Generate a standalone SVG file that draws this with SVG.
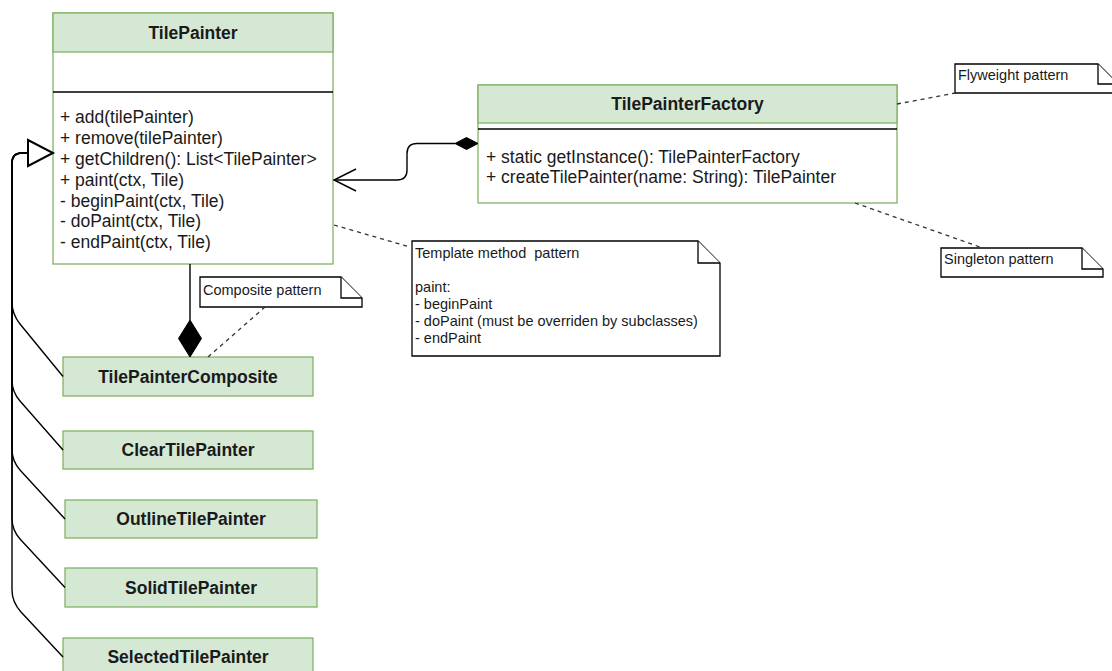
<svg xmlns="http://www.w3.org/2000/svg" width="1112" height="671" viewBox="0 0 1112 671">
  <style>
    .cls { fill: #d5e8d4; stroke: #82b366; stroke-width: 1.3; }
    .body { fill: #ffffff; stroke: #82b366; stroke-width: 1.3; }
    .sep { stroke: #000000; stroke-width: 1.5; }
    .title { font-family: "Liberation Sans", Arial, sans-serif; font-size: 17.5px; font-weight: bold; fill: #1a1a1a; text-anchor: middle; }
    .member { font-family: "Liberation Sans", Arial, sans-serif; font-size: 17.5px; fill: #1a1a1a; }
    .note { fill: #ffffff; stroke: #000000; stroke-width: 1.3; }
    .notetext { font-family: "Liberation Sans", Arial, sans-serif; font-size: 14.5px; fill: #1a1a1a; white-space: pre; }
    .edge { fill: none; stroke: #000000; stroke-width: 1.4; }
    .dash { fill: none; stroke: #333333; stroke-width: 1.3; stroke-dasharray: 4 4; }
  </style>

  <!-- TilePainter class -->
  <g id="tilePainter">
    <rect class="body" x="53" y="13" width="280" height="251"/>
    <rect class="cls" x="53" y="13" width="280" height="39"/>
    <line class="sep" x1="53" y1="92" x2="333" y2="92"/>
    <text class="title" x="193" y="38.5">TilePainter</text>
    <text class="member" x="60" y="123">+ add(tilePainter)</text>
    <text class="member" x="60" y="144">+ remove(tilePainter)</text>
    <text class="member" x="60" y="165">+ getChildren(): List&lt;TilePainter&gt;</text>
    <text class="member" x="60" y="186">+ paint(ctx, Tile)</text>
    <text class="member" x="60" y="206.5">- beginPaint(ctx, Tile)</text>
    <text class="member" x="60" y="227">- doPaint(ctx, Tile)</text>
    <text class="member" x="60" y="248">- endPaint(ctx, Tile)</text>
  </g>

  <!-- TilePainterFactory class -->
  <g id="tilePainterFactory">
    <rect class="body" x="478" y="85" width="419" height="118"/>
    <rect class="cls" x="478" y="85" width="419" height="38"/>
    <line class="sep" x1="478" y1="129" x2="897" y2="129"/>
    <text class="title" x="687.5" y="110">TilePainterFactory</text>
    <text class="member" x="486" y="162.5">+ static getInstance(): TilePainterFactory</text>
    <text class="member" x="486" y="183">+ createTilePainter(name: String): TilePainter</text>
  </g>

  <!-- Subclasses -->
  <g id="tilePainterComposite">
    <rect class="cls" x="63" y="357" width="250" height="39"/>
    <text class="title" x="188" y="382.5">TilePainterComposite</text>
  </g>
  <g id="clearTilePainter">
    <rect class="cls" x="63" y="431" width="250" height="38"/>
    <text class="title" x="188" y="456">ClearTilePainter</text>
  </g>
  <g id="outlineTilePainter">
    <rect class="cls" x="65" y="500" width="252" height="38"/>
    <text class="title" x="191" y="525">OutlineTilePainter</text>
  </g>
  <g id="solidTilePainter">
    <rect class="cls" x="65" y="568" width="252" height="39"/>
    <text class="title" x="191" y="593.5">SolidTilePainter</text>
  </g>
  <g id="selectedTilePainter">
    <rect class="cls" x="63" y="638" width="250" height="39"/>
    <text class="title" x="188" y="663">SelectedTilePainter</text>
  </g>

  <!-- Notes -->
  <g id="noteComposite">
    <path class="note" d="M200,277 H341 L362,298 V307 H200 Z"/>
    <path class="note" d="M341,277 V298 H362"/>
    <text class="notetext" x="203" y="295">Composite pattern</text>
  </g>
  <g id="noteTemplate">
    <path class="note" d="M412,241 H698 L720,263 V356 H412 Z"/>
    <path class="note" d="M698,241 V263 H720"/>
    <text class="notetext" x="415" y="258">Template method  pattern</text>
    <text class="notetext" x="415" y="292">paint:</text>
    <text class="notetext" x="415" y="309">- beginPaint</text>
    <text class="notetext" x="415" y="326">- doPaint (must be overriden by subclasses)</text>
    <text class="notetext" x="415" y="343">- endPaint</text>
  </g>
  <g id="noteFlyweight">
    <path class="note" d="M955,64 H1098 L1118,84 V93 H955 Z"/>
    <path class="note" d="M1098,64 V84 H1118"/>
    <text class="notetext" x="958" y="80">Flyweight pattern</text>
  </g>
  <g id="noteSingleton">
    <path class="note" d="M941,248 H1082 L1103,269 V277 H941 Z"/>
    <path class="note" d="M1082,248 V269 H1103"/>
    <text class="notetext" x="944" y="264">Singleton pattern</text>
  </g>

  <!-- Connectors -->
  <g id="connectors">
    <!-- generalization edges sharing one trunk -->
    <path class="edge" d="M63,376.5 L20,324 Q12,314 12,302 L12,163 Q12,153 22,153 L28,153"/>
    <path class="edge" d="M63,450 L20,401 Q12,392 12,380 L12,163 Q12,153 22,153 L28,153"/>
    <path class="edge" d="M65,519 L20,470 Q12,461 12,449 L12,163 Q12,153 22,153 L28,153"/>
    <path class="edge" d="M65,587.5 L20,539 Q12,530 12,518 L12,163 Q12,153 22,153 L28,153"/>
    <path class="edge" d="M63,657 L21,612 Q12,602 12,590 L12,163 Q12,153 22,153 L28,153"/>
    <polygon points="28,140 53,153 28,166" fill="#ffffff" stroke="#000000" stroke-width="2"/>

    <!-- composition TilePainter to TilePainterComposite -->
    <line class="edge" x1="190" y1="264" x2="190" y2="320"/>
    <polygon points="190,320 201.5,338.5 190,357 178.5,338.5" fill="#000000" stroke="#000000" stroke-width="1"/>

    <!-- factory association -->
    <path class="edge" d="M455,143.5 L417,143.5 Q407,143.5 407,153.5 L407,170 Q407,180 397,180 L334,180"/>
    <polyline class="edge" points="356,169 334,180 356,191"/>
    <polygon points="478,143.5 466.5,137.5 455,143.5 466.5,149.5" fill="#000000" stroke="#000000" stroke-width="1"/>

    <!-- note anchors -->
    <line class="dash" x1="334" y1="225" x2="410" y2="247"/>
    <line class="dash" x1="208" y1="357" x2="265" y2="307"/>
    <line class="dash" x1="897" y1="104" x2="955" y2="93"/>
    <line class="dash" x1="855" y1="203" x2="980" y2="247"/>
  </g>
</svg>
